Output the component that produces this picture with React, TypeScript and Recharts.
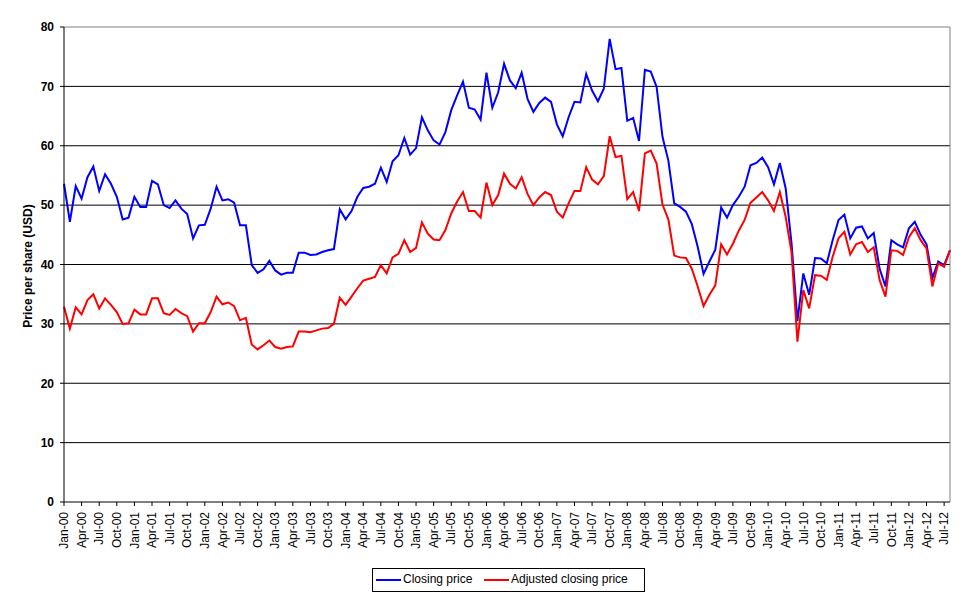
import React from 'react';
import { LineChart, Line, XAxis, YAxis, CartesianGrid, Legend, ReferenceLine } from 'recharts';

const FONT = "'Liberation Sans', Arial, sans-serif";

const MONTHS = ['Jan', 'Feb', 'Mar', 'Apr', 'May', 'Jun', 'Jul', 'Aug', 'Sep', 'Oct', 'Nov', 'Dec'];
const YEARS = ['00', '01', '02', '03', '04', '05', '06', '07', '08', '09', '10', '11', '12'];
const LAST_MONTH_INDEX_2012 = 7; // Aug-12

const CATEGORIES: string[] = [];
YEARS.forEach((yy, yi) => {
  MONTHS.forEach((m, mi) => {
    if (yi === YEARS.length - 1 && mi > LAST_MONTH_INDEX_2012) return;
    CATEGORIES.push(`${m}-${yy}`);
  });
});

const CLOSING = [
  53.6, 47.2, 53.2, 51.1, 54.7, 56.5, 52.4, 55.2, 53.6, 51.4, 47.6, 47.9,
  51.4, 49.7, 49.7, 54.1, 53.5, 50.0, 49.5, 50.8, 49.4, 48.5, 44.4, 46.6,
  46.7, 49.4, 53.1, 50.8, 51.0, 50.4, 46.6, 46.6, 39.9, 38.6, 39.2, 40.6,
  39.0, 38.3, 38.6, 38.6, 42.0, 42.0, 41.6, 41.7, 42.1, 42.4, 42.6, 49.3,
  47.6, 49.0, 51.4, 52.9, 53.1, 53.6, 56.3, 53.9, 57.4, 58.4, 61.3, 58.5,
  59.6, 64.8, 62.6, 60.9, 60.2, 62.3, 66.0, 68.5, 70.8, 66.4, 66.1, 64.4,
  72.3, 66.4, 69.0, 73.8, 71.0, 69.7, 72.3, 67.9, 65.7, 67.2, 68.1, 67.4,
  63.6, 61.6, 64.8, 67.4, 67.3, 72.1, 69.3, 67.5, 69.6, 78.0, 72.9, 73.1,
  64.2, 64.7, 60.8, 72.8, 72.5, 69.9, 61.5, 57.5, 50.3, 49.7, 48.9, 46.8,
  43.0, 38.4, 40.5, 42.5, 49.6, 47.9, 50.0, 51.4, 53.1, 56.7, 57.1, 58.0,
  56.4, 53.5, 57.1, 52.8, 43.5, 30.5, 38.5, 34.9, 41.1, 41.0, 40.2, 44.1,
  47.5, 48.4, 44.4, 46.2, 46.4, 44.4, 45.3, 39.3, 36.3, 44.1, 43.4, 42.9,
  46.1, 47.2, 45.0, 43.4, 37.7, 40.5, 39.9, 42.4,
];

const ADJUSTED = [
  32.9, 29.2, 32.8, 31.6, 34.0, 35.0, 32.6, 34.3, 33.2, 32.0, 30.0, 30.1,
  32.4, 31.6, 31.6, 34.3, 34.3, 31.8, 31.5, 32.5, 31.8, 31.3, 28.7, 30.1,
  30.1, 32.0, 34.6, 33.3, 33.6, 33.0, 30.6, 31.0, 26.5, 25.7, 26.4, 27.2,
  26.1, 25.8, 26.1, 26.2, 28.7, 28.7, 28.6, 28.9, 29.2, 29.3, 30.0, 34.4,
  33.2, 34.6, 36.0, 37.3, 37.6, 37.9, 39.9, 38.5, 41.2, 41.8, 44.1, 42.1,
  42.8, 47.1, 45.2, 44.2, 44.1, 45.8, 48.6, 50.6, 52.2, 49.0, 49.0, 47.9,
  53.8, 50.0, 51.7, 55.3, 53.6, 52.8, 54.7, 51.9, 50.0, 51.3, 52.2, 51.7,
  48.9, 47.9, 50.3, 52.4, 52.4, 56.4, 54.3, 53.5, 54.9, 61.6, 58.1, 58.3,
  51.0, 52.2, 49.0, 58.7, 59.2, 57.0, 50.1, 47.6, 41.5, 41.2, 41.1, 39.3,
  36.3, 33.0, 34.9, 36.5, 43.4, 41.7, 43.5, 45.7, 47.5, 50.4, 51.3, 52.2,
  50.8, 49.0, 52.2, 48.0, 42.0, 27.0, 35.7, 32.6, 38.2, 38.1, 37.4, 41.3,
  44.4, 45.5, 41.7, 43.4, 43.8, 42.1, 42.9, 37.4, 34.6, 42.4, 42.3, 41.6,
  44.6, 46.1, 44.1, 42.7, 36.3, 40.2, 39.6, 42.4,
];

const Y_TICKS = [0, 10, 20, 30, 40, 50, 60, 70, 80];
const GRID_VALUES = [10, 20, 30, 40, 50, 60, 70];
const SERIES_NAMES = ['Closing price', 'Adjusted closing price'];

const data = CATEGORIES.map((month, i) => ({
  month,
  closing: CLOSING[i],
  adjusted: ADJUSTED[i],
}));

const XTick = (props: any) => {
  const { x, y, payload } = props;
  return (
    <g transform={`translate(${x},${y + 4})`}>
      <text
        transform="rotate(-90)"
        textAnchor="end"
        dy="0.35em"
        fontSize={12}
        fontFamily={FONT}
        fill="#000"
      >
        {payload.value}
      </text>
    </g>
  );
};

const renderLegend = () => (
  <div
    style={{
      position: 'relative',
      width: 273,
      height: 24,
      boxSizing: 'border-box',
      border: '1px solid #000',
      background: '#fff',
      fontFamily: FONT,
      fontSize: 12,
      color: '#000',
    }}
  >
    <svg width={273} height={22} style={{ position: 'absolute', left: 0, top: 0 }}>
      <line x1={3} x2={28} y1={11} y2={11} stroke="#0000FF" strokeWidth={2} />
      <line x1={111} x2={136} y1={11} y2={11} stroke="#FF0000" strokeWidth={2} />
    </svg>
    <span style={{ position: 'absolute', left: 30, top: 3, whiteSpace: 'nowrap', lineHeight: '14px' }}>
      {SERIES_NAMES[0]}
    </span>
    <span style={{ position: 'absolute', left: 138, top: 3, whiteSpace: 'nowrap', lineHeight: '14px' }}>
      {SERIES_NAMES[1]}
    </span>
  </div>
);

export default function App() {
  return (
    <div style={{ width: 961, height: 584, background: '#fff' }}>
      <LineChart
        width={961}
        height={584}
        data={data}
        margin={{ top: 19, right: 19, left: 0, bottom: 0 }}
      >
        <CartesianGrid
          vertical={false}
          horizontal
          horizontalValues={GRID_VALUES}
          stroke="#000"
          strokeWidth={1}
        />
        <XAxis
          dataKey="month"
          type="category"
          interval={2}
          height={66}
          tick={<XTick />}
          tickSize={4}
          tickMargin={2}
          axisLine={{ stroke: '#000' }}
          tickLine={{ stroke: '#000' }}
        />
        <YAxis
          width={56}
          domain={[0, 80]}
          ticks={Y_TICKS}
          type="number"
          allowDataOverflow
          tickSize={4}
          tickMargin={6}
          tick={{ fill: '#000', fontSize: 12, fontWeight: 'bold', fontFamily: FONT }}
          axisLine={{ stroke: '#000' }}
          tickLine={{ stroke: '#000' }}
          label={() => (
            <text
              x={20}
              y={258}
              transform="rotate(-90 20 258)"
              textAnchor="middle"
              dominantBaseline="central"
              fontSize={12}
              fontWeight="bold"
              fontFamily={FONT}
              fill="#000"
            >
              Price per share (USD)
            </text>
          )}
        />
        <ReferenceLine y={80} stroke="#808080" strokeWidth={1} />
        <ReferenceLine x={CATEGORIES[CATEGORIES.length - 1]} stroke="#808080" strokeWidth={1} />
        <Line
          type="linear"
          dataKey="closing"
          name={SERIES_NAMES[0]}
          stroke="#0000FF"
          strokeWidth={2}
          dot={false}
          isAnimationActive={false}
        />
        <Line
          type="linear"
          dataKey="adjusted"
          name={SERIES_NAMES[1]}
          stroke="#FF0000"
          strokeWidth={2}
          dot={false}
          isAnimationActive={false}
        />
        <Legend
          verticalAlign="bottom"
          content={renderLegend}
          wrapperStyle={{ left: 364, bottom: 0, width: 273, height: 24 }}
        />
      </LineChart>
    </div>
  );
}
